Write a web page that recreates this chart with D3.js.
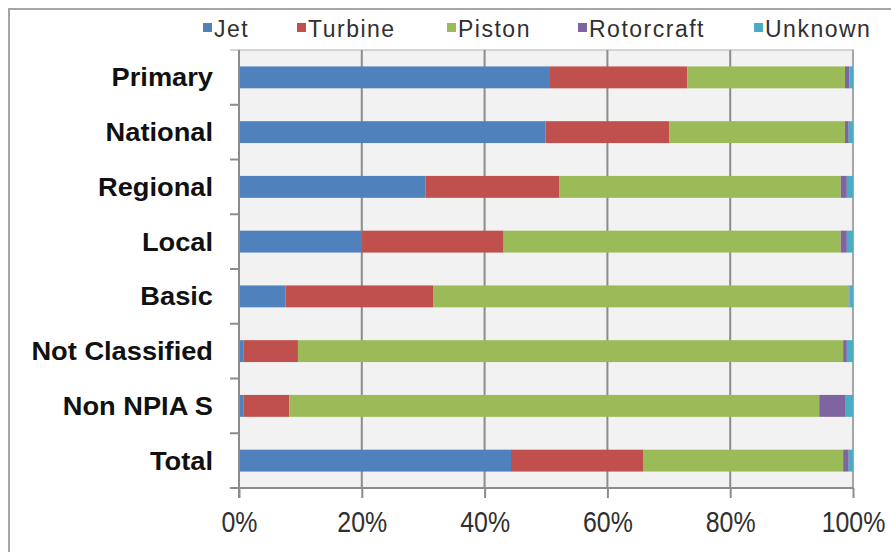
<!DOCTYPE html>
<html>
<head>
<meta charset="utf-8">
<script src="https://cdn.jsdelivr.net/npm/d3@7"></script>
<style>
  html, body { margin: 0; padding: 0; background: #fff; }
  svg { display: block; font-family: "Liberation Sans", Arial, sans-serif; }
</style>
</head>
<body>
<svg id="chart" width="891" height="552"></svg>
<script>
// Airport classes (rows, top to bottom)
const categories = ["Primary", "National", "Regional", "Local", "Basic", "Not Classified", "Non NPIA S", "Total"];
// Aircraft type series, share of each row in percent
const seriesNames = ["Jet", "Turbine", "Piston", "Rotorcraft", "Unknown"];
const jet        = [50.5, 49.9, 30.4, 20.0,  7.6,  0.7,  0.7, 44.3];
const turbine    = [22.5, 20.2, 21.8, 23.1, 24.0,  8.9,  7.5, 21.5];
const piston     = [25.7, 28.6, 45.8, 54.9, 67.7, 88.8, 86.3, 32.6];
const rotorcraft = [ 0.7,  0.6,  1.0,  1.0,  0.1,  0.6,  4.2,  0.9];
const unknown    = [ 0.6,  0.7,  1.0,  1.0,  0.6,  1.0,  1.3,  0.7];
const xTicks = [0, 20, 40, 60, 80, 100];
const colors = ["#4f81bd", "#c0504d", "#9bbb59", "#8064a2", "#4bacc6"];

const rows = categories.map((c, i) => ({
  category: c,
  Jet: jet[i], Turbine: turbine[i], Piston: piston[i],
  Rotorcraft: rotorcraft[i], Unknown: unknown[i]
}));

const svg = d3.select("#chart");
const plot = { left: 239, right: 853, top: 50, bottom: 488 };

// Chart frame
svg.append("rect")
  .attr("x", 9).attr("y", 9).attr("width", 960).attr("height", 700)
  .attr("fill", "#fff").attr("stroke", "#a5a5a5").attr("stroke-width", 2);

const x = d3.scaleLinear().domain([0, 100]).range([plot.left, plot.right]);
const y = d3.scaleBand().domain(categories).range([plot.top, plot.bottom]).paddingInner(0.6).paddingOuter(0.3);
const band = d3.scaleBand().domain(categories).range([plot.top, plot.bottom]);
const color = d3.scaleOrdinal().domain(seriesNames).range(colors);

// Plot background
svg.append("rect")
  .attr("x", plot.left).attr("y", plot.top)
  .attr("width", plot.right - plot.left).attr("height", plot.bottom - plot.top)
  .attr("fill", "#f2f2f2");
svg.append("line")
  .attr("x1", plot.left - 9).attr("x2", plot.right + 1)
  .attr("y1", plot.top).attr("y2", plot.top)
  .attr("stroke", "#c8c8c8").attr("stroke-width", 1.5);

// Vertical gridlines
svg.append("g")
  .selectAll("line")
  .data(xTicks.filter(t => t > 0))
  .join("line")
  .attr("x1", d => x(d)).attr("x2", d => x(d))
  .attr("y1", plot.top).attr("y2", plot.bottom)
  .attr("stroke", d => d === 100 ? "#a6a6a6" : "#8c8c8c")
  .attr("stroke-width", 2);

// Stacked bars
const stacked = d3.stack().keys(seriesNames)(rows);
svg.append("g")
  .selectAll("g")
  .data(stacked)
  .join("g")
  .attr("fill", d => color(d.key))
  .selectAll("rect")
  .data(d => d)
  .join("rect")
  .attr("x", d => x(d[0]))
  .attr("width", d => Math.max(0, x(d[1]) - x(d[0])))
  .attr("y", d => y(d.data.category))
  .attr("height", y.bandwidth());

// Bottom axis
const xAxis = svg.append("g")
  .attr("transform", `translate(0,${plot.bottom})`)
  .call(d3.axisBottom(x).tickValues(xTicks).tickFormat(d => d + "%").tickSize(10).tickSizeOuter(0));
xAxis.select(".domain").attr("stroke", "#8c8c8c").attr("stroke-width", 2)
  .attr("d", `M${plot.left - 9},0H${plot.right}`);
xAxis.selectAll(".tick line").attr("stroke", "#8c8c8c").attr("stroke-width", 2);
xAxis.selectAll(".tick text")
  .attr("font-size", 29).attr("fill", "#303030")
  .attr("font-family", "'Liberation Sans', Arial, sans-serif")
  .attr("y", 0).attr("dy", null)
  .attr("transform", "translate(0,44) scale(0.86,1)");

// Left axis: ticks at band boundaries
const leftAxis = svg.append("g");
leftAxis.append("line")
  .attr("x1", plot.left).attr("x2", plot.left)
  .attr("y1", plot.top).attr("y2", plot.bottom + 10)
  .attr("stroke", "#8c8c8c").attr("stroke-width", 2);
leftAxis.selectAll(".tk")
  .data(categories.slice(1))
  .join("line")
  .attr("class", "tk")
  .attr("x1", plot.left - 9).attr("x2", plot.left)
  .attr("y1", d => band(d)).attr("y2", d => band(d))
  .attr("stroke", "#8c8c8c").attr("stroke-width", 2);

// Category labels
svg.append("g")
  .selectAll("text")
  .data(categories)
  .join("text")
  .attr("transform", d => `translate(213,${band(d) + band.bandwidth() / 2 + 9}) scale(1.09,1)`)
  .attr("text-anchor", "end")
  .attr("font-size", 25)
  .attr("font-weight", "bold")
  .attr("fill", "#111")
  .text(d => d);

// Legend
const legendX = [203, 297, 447, 578, 754];
const legend = svg.append("g")
  .selectAll("g")
  .data(seriesNames)
  .join("g")
  .attr("transform", (d, i) => `translate(${legendX[i]},0)`);
legend.append("rect")
  .attr("x", 0).attr("y", 23).attr("width", 9).attr("height", 9)
  .attr("fill", d => color(d));
legend.append("text")
  .attr("x", 11).attr("y", 37)
  .attr("font-size", 23)
  .attr("letter-spacing", 1.5)
  .attr("fill", "#303030")
  .text(d => d);
</script>
</body>
</html>
